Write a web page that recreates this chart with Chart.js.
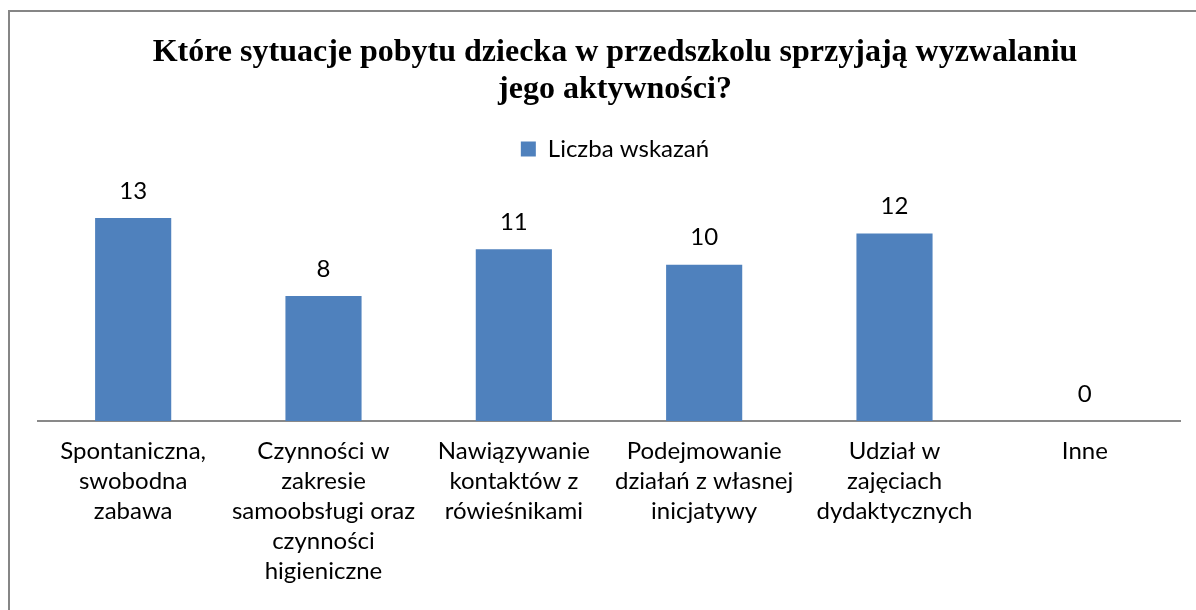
<!DOCTYPE html>
<html lang="pl">
<head>
<meta charset="utf-8">
<title>Które sytuacje pobytu dziecka w przedszkolu sprzyjają wyzwalaniu jego aktywności?</title>
<script src="https://cdn.jsdelivr.net/npm/chart.js@4"></script>
<style>
  html, body { margin: 0; padding: 0; background: #fff; overflow: hidden; }
  #wrap { position: relative; width: 1196px; height: 610px; }
</style>
</head>
<body>
<div id="wrap"><canvas id="chart"></canvas></div>
<script>
// ---- data ----
const categories = [
  ['Spontaniczna,', 'swobodna', 'zabawa'],
  ['Czynności w', 'zakresie', 'samoobsługi oraz', 'czynności', 'higieniczne'],
  ['Nawiązywanie', 'kontaktów z', 'rówieśnikami'],
  ['Podejmowanie', 'działań z własnej', 'inicjatywy'],
  ['Udział w', 'zajęciach', 'dydaktycznych'],
  ['Inne']
];
const seriesName = 'Liczba wskazań';
const counts = [13, 8, 11, 10, 12, 0];
const titleLines = [
  'Które sytuacje pobytu dziecka w przedszkolu sprzyjają wyzwalaniu',
  'jego aktywności?'
];

const SANS = "Lato, 'Noto Sans', sans-serif";
const BAR_BLUE = '#4F81BD';

// frame around the whole chart (Excel style)
const framePlugin = {
  id: 'frame',
  beforeDraw(chart) {
    const ctx = chart.ctx;
    ctx.save();
    ctx.fillStyle = '#fff';
    ctx.fillRect(0, 0, chart.width, chart.height);
    ctx.strokeStyle = '#868686';
    ctx.lineWidth = 2;
    ctx.strokeRect(9, 11, chart.width + 50, chart.height + 50);
    ctx.restore();
  }
};

// value labels above the bars
const valueLabels = {
  id: 'valueLabels',
  afterDatasetsDraw(chart) {
    const ctx = chart.ctx;
    ctx.save();
    ctx.font = '24px ' + SANS;
    ctx.fillStyle = '#000';
    ctx.textAlign = 'center';
    ctx.textBaseline = 'middle';
    chart.getDatasetMeta(0).data.forEach((bar, i) => {
      ctx.fillText(String(counts[i]), bar.x, bar.y - 27);
    });
    ctx.restore();
  }
};

new Chart(document.getElementById('chart'), {
  type: 'bar',
  data: {
    labels: categories,
    datasets: [{
      label: seriesName,
      data: counts,
      backgroundColor: BAR_BLUE,
      barPercentage: 0.4,
      categoryPercentage: 1.0
    }]
  },
  options: {
    responsive: true,
    maintainAspectRatio: false,
    animation: false,
    layout: { padding: { left: 38, right: 4, top: 0, bottom: 17 } },
    plugins: {
      title: {
        display: true,
        text: titleLines,
        color: '#000',
        font: { family: "'Liberation Serif', 'Times New Roman', serif", size: 32, weight: 'bold', lineHeight: '37px' },
        padding: { top: 34, bottom: 19 }
      },
      legend: {
        display: true,
        labels: {
          color: '#000',
          font: { family: SANS, size: 24 },
          boxWidth: 15,
          boxHeight: 15,
          padding: 10
        }
      },
      tooltip: { enabled: false }
    },
    scales: {
      x: {
        grid: { display: false },
        border: { display: true, color: '#898989', width: 2 },
        ticks: {
          color: '#000',
          font: { family: SANS, size: 24, lineHeight: '30px' },
          padding: 7,
          maxRotation: 0,
          autoSkip: false
        }
      },
      y: {
        position: 'right',
        min: 0,
        max: 16,
        display: true,
        grid: { display: false },
        border: { display: false },
        ticks: { display: false },
        afterFit(scale) { scale.width = 12; }
      }
    }
  },
  plugins: [framePlugin, valueLabels]
});
</script>
</body>
</html>
